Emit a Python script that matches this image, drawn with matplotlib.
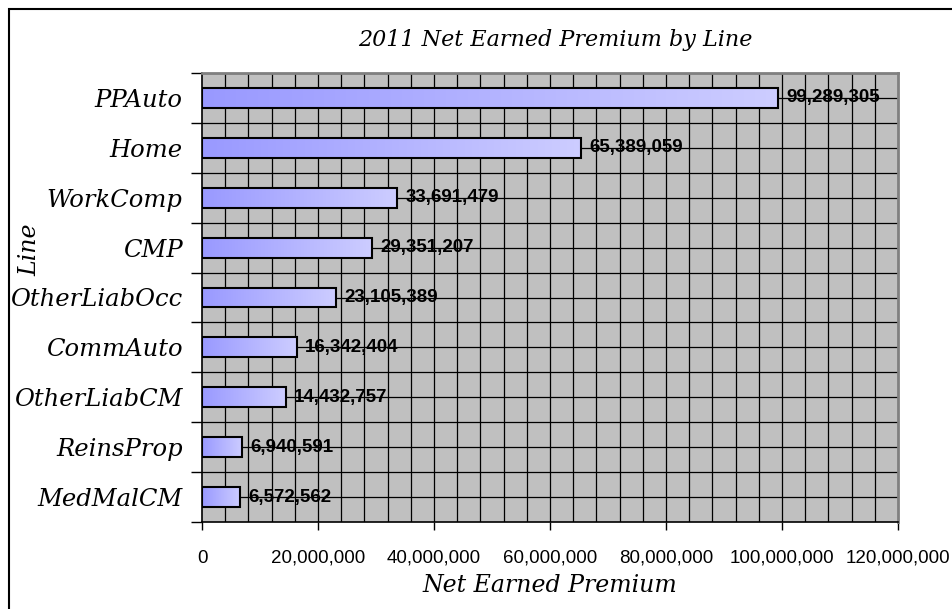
import numpy as np
import matplotlib
matplotlib.use("Agg")
import matplotlib.pyplot as plt
from matplotlib.ticker import MultipleLocator, FuncFormatter
from matplotlib.patches import Rectangle

# Net earned premium by line of business, 2011
lines = ["PPAuto", "Home", "WorkComp", "CMP", "OtherLiabOcc",
         "CommAuto", "OtherLiabCM", "ReinsProp", "MedMalCM"]
premium = [99289305, 65389059, 33691479, 29351207, 23105389,
           16342404, 14432757, 6940591, 6572562]

serif = ["DejaVu Serif"]
sans = ["Liberation Sans", "DejaVu Sans"]

W, H = 952, 609
fig = plt.figure(figsize=(W / 100, H / 100), dpi=100)
ax = fig.add_axes([202 / W, (H - 522) / H, (898 - 202) / W, (522 - 73) / H])
ax.set_facecolor("#C0C0C0")

y = np.arange(len(lines))
bar_h = 0.4
ax.set_xlim(0, 120_000_000)
ax.set_ylim(len(lines) - 0.5, -0.5)

# gradient bars: periwinkle fading to pale lavender
grad = np.linspace(0, 1, 256).reshape(1, -1)
cmap = matplotlib.colors.LinearSegmentedColormap.from_list("bar", ["#9999FF", "#CDCDFF"])
bars = ax.barh(y, premium, height=bar_h, facecolor="none", edgecolor="black",
               linewidth=1.5, zorder=4)
for b in bars:
    x0, y0 = b.get_x(), b.get_y()
    im = ax.imshow(grad, cmap=cmap, aspect="auto", zorder=3,
                   extent=(x0, x0 + b.get_width(), y0 + b.get_height(), y0))
    im.set_clip_path(b)

for yi, v in zip(y, premium):
    ax.annotate(f"{v:,}", (v, yi), xytext=(6, 0), textcoords="offset points",
                va="center", ha="left", fontsize=13.5, fontweight="bold",
                family=sans, zorder=5)

# grid: vertical every 4M, horizontal at category edges and centres
for gx in np.arange(4_000_000, 120_000_000, 4_000_000):
    ax.axvline(gx, color="black", lw=0.9, zorder=1)
for gy in np.arange(-0.5, len(lines), 0.5)[1:-1]:
    ax.axhline(gy, color="black", lw=0.9, zorder=1)
ax.axhline(-0.5, color="black", lw=0.9, zorder=1)

ax.set_yticks(np.arange(-0.5, len(lines), 1.0))
ax.set_yticklabels([])
ax.set_yticks(y, minor=True)
ax.set_yticklabels(lines, minor=True, fontsize=17.5, style="italic", family=serif)
ax.tick_params(axis="y", which="major", direction="out", length=8, width=1)
ax.tick_params(axis="y", which="minor", length=0, pad=14)

ax.xaxis.set_major_locator(MultipleLocator(20_000_000))
ax.xaxis.set_major_formatter(FuncFormatter(lambda v, p: f"{v:,.0f}"))
ax.tick_params(axis="x", direction="out", length=6, width=1, pad=14, labelsize=13.5)
for lab in ax.get_xticklabels():
    lab.set_family(sans)

for s in ["left", "bottom"]:
    ax.spines[s].set_color("black")
    ax.spines[s].set_linewidth(1.2)
for s in ["top", "right"]:
    ax.spines[s].set_color("#808080")
    ax.spines[s].set_linewidth(2)

fig.text(555 / W, 1 - 40 / H, "2011 Net Earned Premium by Line", ha="center", va="center",
         fontsize=16, style="italic", family=serif)
fig.text(550 / W, 1 - 585 / H, "Net Earned Premium", ha="center", va="center",
         fontsize=17, style="italic", family=serif)
fig.text(30 / W, 1 - 250 / H, "Line", ha="center", va="center", rotation=90,
         fontsize=17, style="italic", family=serif)

# chart frame, open at the right and bottom edges
fig.patches.append(Rectangle((9 / W, -0.1), 1.2, 1.1 - 9 / H,
                             transform=fig.transFigure, fill=False,
                             edgecolor="black", linewidth=1.5))

fig.savefig("out.png", dpi=100)
